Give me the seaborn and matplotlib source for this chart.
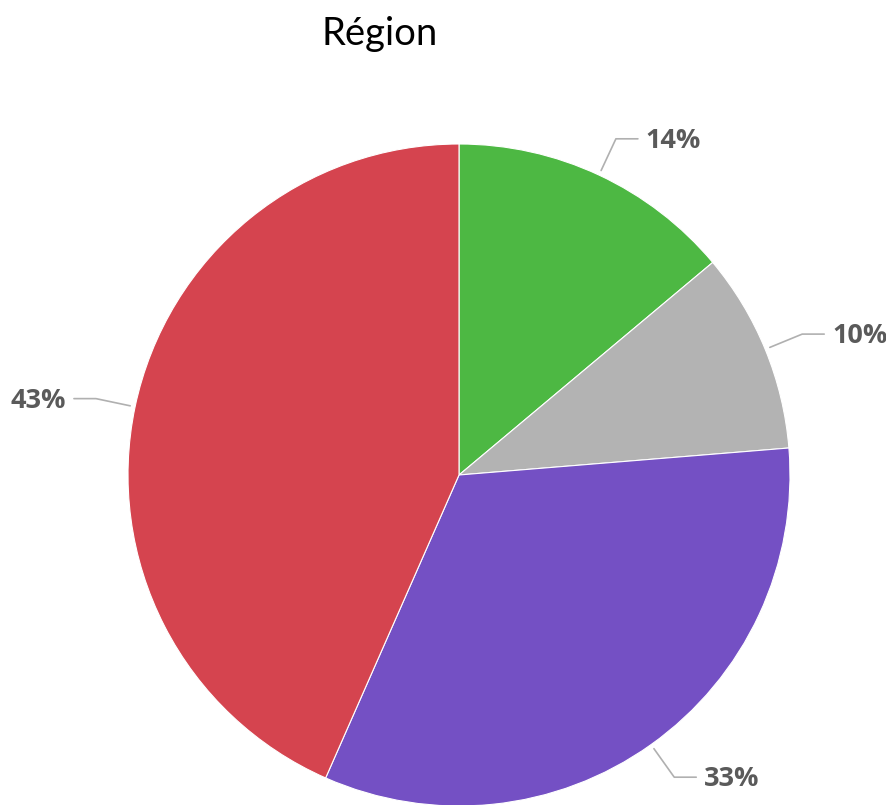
import numpy as np
import matplotlib
matplotlib.use("Agg")
import matplotlib.pyplot as plt
import seaborn as sns

# Data
categories = ["Région A", "Région B", "Région C", "Région D"]
values = [13.9, 9.8, 32.9, 43.4]
colors = ["#4db843", "#b3b3b3", "#7450c4", "#d5444f"]
title = "Région"

sns.set_theme(style="white")
plt.rcParams["font.family"] = ["Open Sans", "DejaVu Sans"]

W, H = 886, 805
fig = plt.figure(figsize=(W / 100, H / 100), dpi=100)
ax = fig.add_axes([0, 0, 1, 1])

cx, cy, R = 459, H - 475, 331
wedges, _ = ax.pie(values, colors=colors, startangle=90, counterclock=False,
                   center=(cx, cy), radius=R,
                   wedgeprops=dict(edgecolor="white", linewidth=0.8))
ax.set_xlim(0, W)
ax.set_ylim(0, H)
ax.set_aspect("equal")
ax.axis("off")

total = sum(values)
for w, v in zip(wedges, values):
    theta = np.deg2rad((w.theta1 + w.theta2) / 2)
    d = np.array([np.cos(theta), np.sin(theta)])
    p0 = np.array([cx, cy]) + (R + 5) * d
    p1 = np.array([cx, cy]) + (R + 40) * d
    side = 1 if d[0] >= 0 else -1
    p2 = p1 + np.array([side * 22, 0])
    ax.plot([p0[0], p1[0], p2[0]], [p0[1], p1[1], p2[1]],
            color="#b0b0b0", lw=1.2, solid_capstyle="round", clip_on=False)
    ax.text(p2[0] + side * 8, p2[1] - 2, f"{round(v / total * 100)}%",
            ha="left" if side > 0 else "right", va="center",
            fontsize=19.5, fontweight="bold", color="#5a5a5a")

fig.text(380 / W, 1 - 45 / H, title, ha="center", va="baseline",
         fontsize=27.5, family=["Lato", "DejaVu Sans"], color="black")

fig.savefig("out.png", dpi=100, facecolor="white")
